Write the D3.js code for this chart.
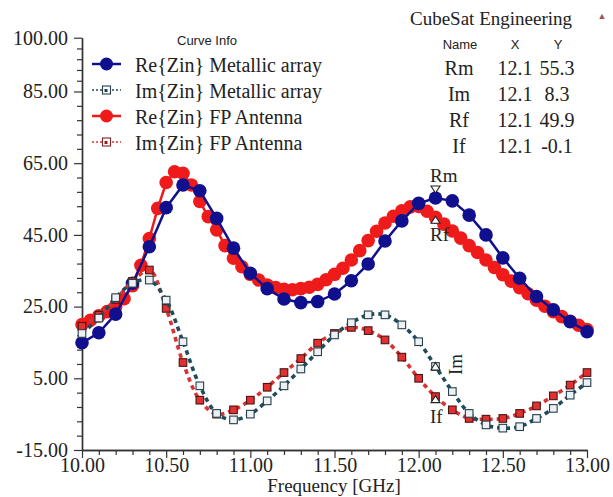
<!DOCTYPE html>
<html><head><meta charset="utf-8">
<script src="https://cdn.jsdelivr.net/npm/d3@7"></script>
<style>
html,body{margin:0;padding:0;background:#fff;}
svg{display:block;}
</style></head>
<body>
<svg id="chart" width="613" height="497"></svg>
<script>
// ---- data ----
const freqCoarse = [10.0,10.1,10.2,10.3,10.4,10.5,10.6,10.7,10.8,10.9,11.0,11.1,11.2,11.3,11.4,11.5,11.6,11.7,11.8,11.9,12.0,12.1,12.2,12.3,12.4,12.5,12.6,12.7,12.8,12.9,13.0];
const reMetallic = [14.9,17.7,22.9,31.5,41.7,52.6,58.9,57.3,49.6,41.3,34.3,30.0,27.1,26.1,26.4,28.5,32.2,36.9,43.3,48.9,53.8,55.3,54.5,50.5,45.0,38.6,32.9,27.8,24.1,20.8,18.0];
const imMetallic = [17.5,21.8,27.5,31.5,32.4,26.8,15.2,2.9,-4.8,-6.6,-5.0,-1.3,2.9,7.6,12.4,17.1,20.5,22.7,22.7,19.9,15.2,8.3,1.3,-4.8,-8.0,-8.9,-8.5,-6.2,-3.4,0.3,3.8];
const imFP = [19.5,22.6,27.0,32.0,35.2,24.5,9.4,-1.1,-5.0,-3.8,-1.1,2.5,6.6,10.5,14.8,17.5,19.2,18.3,15.7,10.9,5.0,-0.1,-3.8,-6.2,-6.4,-6.2,-4.8,-2.7,0.1,3.1,6.6];
const freqFine = [10.00,10.05,10.10,10.15,10.20,10.25,10.30,10.35,10.40,10.45,10.50,10.55,10.60,10.65,10.70,10.75,10.80,10.85,10.90,10.95,11.00,11.05,11.10,11.15,11.20,11.25,11.30,11.35,11.40,11.45,11.50,11.55,11.60,11.65,11.70,11.75,11.80,11.85,11.90,11.95,12.00,12.05,12.10,12.15,12.20,12.25,12.30,12.35,12.40,12.45,12.50,12.55,12.60,12.65,12.70,12.75,12.80,12.85,12.90,12.95,13.00];
const reFP = [20.0,21.2,22.4,23.6,25.0,27.2,30.8,36.5,44.0,52.4,59.6,62.6,62.2,58.9,54.3,50.1,46.4,42.0,38.5,36.1,34.0,32.4,31.0,30.3,29.8,29.7,30.0,30.4,31.2,32.5,34.0,35.7,38.0,40.6,43.4,46.0,48.3,50.2,51.7,52.8,52.9,51.6,49.9,48.0,46.1,44.1,42.0,40.1,38.0,35.9,33.9,32.1,30.3,28.6,26.8,25.1,23.6,22.2,20.9,19.8,18.6];

const seriesNames = ["Re{Zin} Metallic array","Im{Zin} Metallic array","Re{Zin} FP Antenna","Im{Zin} FP Antenna"];
const yMajorTicks = [100,85,65,45,25,5,-15];
const yMinorTicks = [97,94,91,88,81,77,73,69,61,57,53,49,41,37,33,29,21,17,13,9,1,-3,-7,-11];
const xMajorTicks = [10.0,10.5,11.0,11.5,12.0,12.5,13.0];
const xMinorTicks = [10.1,10.2,10.3,10.4,10.6,10.7,10.8,10.9,11.1,11.2,11.3,11.4,11.6,11.7,11.8,11.9,12.1,12.2,12.3,12.4,12.6,12.7,12.8,12.9];
const markerNames = ["Rm","Im","Rf","If"];
const markerX = [12.1,12.1,12.1,12.1];
const markerY = [55.3,8.3,49.9,-0.1];

// ---- layout ----
const svg = d3.select("#chart");
const serif = "'Liberation Serif','Times New Roman',serif";
const sans = "'Liberation Sans',Arial,sans-serif";
const x = d3.scaleLinear().domain([10,13]).range([82,587]);
const y = d3.scaleLinear().domain([-15,100]).range([450,37.7]);
const fmt2 = v => v.toFixed(2);
const fmt1 = v => v.toFixed(1);

const colBlue = "#10108e", colRed = "#ef1b1b", colImM = "#1f4c5c", colImF = "#d83232";

// axes
const axisColor = "#333";
function styleAxis(g){
  g.select(".domain").attr("stroke",axisColor).attr("stroke-width",1.4);
  g.selectAll(".tick line").attr("stroke",axisColor).attr("stroke-width",1.2);
  g.selectAll("text").attr("fill","#222").attr("font-family",serif).attr("font-size",20);
}
svg.append("g").attr("transform","translate(82,0)")
  .call(d3.axisLeft(y).tickValues(yMinorTicks).tickSize(5).tickSizeOuter(0).tickFormat(""))
  .call(styleAxis);
svg.append("g").attr("transform","translate(82,0)")
  .call(d3.axisLeft(y).tickValues(yMajorTicks).tickSize(8).tickSizeOuter(0).tickPadding(6).tickFormat(fmt2))
  .call(styleAxis);
svg.append("g").attr("transform","translate(0,450)")
  .call(d3.axisBottom(x).tickValues(xMinorTicks).tickSize(5).tickSizeOuter(0).tickFormat(""))
  .call(styleAxis);
svg.append("g").attr("transform","translate(0,450)")
  .call(d3.axisBottom(x).tickValues(xMajorTicks).tickSize(8).tickSizeOuter(0).tickPadding(0).tickFormat(fmt2))
  .call(styleAxis);

svg.append("text").attr("x",334).attr("y",492).attr("text-anchor","middle")
  .attr("font-family",serif).attr("font-size",19).attr("fill","#222").text("Frequency [GHz]");

// ---- series ----
const plot = svg.append("g");
const lineLin = d3.line().x(d=>x(d[0])).y(d=>y(d[1]));
const lineSmooth = d3.line().x(d=>x(d[0])).y(d=>y(d[1])).curve(d3.curveCatmullRom);

const dReF = freqFine.map((f,i)=>[f,reFP[i]]);
const dReM = freqCoarse.map((f,i)=>[f,reMetallic[i]]);
const dImM = freqCoarse.map((f,i)=>[f,imMetallic[i]]);
const dImF = freqCoarse.map((f,i)=>[f,imFP[i]]);

function drawRe(data,col){
  plot.append("path").datum(data).attr("d",lineLin).attr("fill","none").attr("stroke",col).attr("stroke-width",2.5);
  plot.append("g").selectAll("circle").data(data).join("circle")
    .attr("cx",d=>x(d[0])).attr("cy",d=>y(d[1])).attr("r",6.8).attr("fill",col);
}
function drawIm(data,col,sqFill,sqStroke){
  plot.append("path").datum(data).attr("d",lineSmooth).attr("fill","none").attr("stroke",col)
    .attr("stroke-width",3.6).attr("stroke-dasharray","4.5,4");
  plot.append("g").selectAll("rect").data(data).join("rect")
    .attr("x",d=>x(d[0])-3.8).attr("y",d=>y(d[1])-3.8).attr("width",7.6).attr("height",7.6)
    .attr("fill",sqFill).attr("stroke",sqStroke).attr("stroke-width",1.1);
}
drawRe(dReF,colRed);
drawRe(dReM,colBlue);
drawIm(dImF,colImF,"#e03030","#4a1414");
drawIm(dImM,colImM,"#eef1f3","#24404e");

// ---- markers ----
const mk = svg.append("g");
markerNames.forEach((n,i)=>{
  const px = x(markerX[i]), py = y(markerY[i]);
  let pts, tx, ty, rot = false;
  if(n==="Rm"){ pts=[[px-4.5,py-12],[px+4.5,py-12],[px,py-5]]; tx=430; ty=py-16; }
  else if(n==="Rf"){ pts=[[px,py-1],[px-4.5,py+6],[px+4.5,py+6]]; tx=430; ty=py+24; }
  else if(n==="If"){ pts=[[px,py-1],[px-4.5,py+6],[px+4.5,py+6]]; tx=430; ty=py+26; }
  else { pts=[[px,py-4],[px-4.5,py+3.5],[px+4.5,py+3.5]]; rot=true; tx=px+20; ty=py-2; }
  mk.append("path").attr("d","M"+pts.map(p=>p.join(",")).join("L")+"Z")
    .attr("fill","#fff").attr("stroke","#222").attr("stroke-width",1.1);
  const t = mk.append("text").attr("font-family",serif).attr("font-size",19).attr("fill","#222").text(n);
  if(rot){ t.attr("text-anchor","middle").attr("transform",`translate(${tx},${ty}) rotate(-90)`).attr("dy","0.35em"); }
  else { t.attr("x",tx).attr("y",ty); }
});

// ---- legend ----
const lg = svg.append("g");
lg.append("text").attr("x",207).attr("y",45).attr("text-anchor","middle")
  .attr("font-family",sans).attr("font-size",13).attr("fill","#222").text("Curve Info");
const legCols = [colBlue,colImM,colRed,colImF];
const legSq = ["#24404e","#24404e","","#8a2020"];
seriesNames.forEach((n,i)=>{
  const cy = 64 + i*26;
  if(i%2===0){
    lg.append("line").attr("x1",92).attr("x2",121).attr("y1",cy).attr("y2",cy).attr("stroke",legCols[i]).attr("stroke-width",2.5);
    lg.append("circle").attr("cx",106.5).attr("cy",cy).attr("r",6.5).attr("fill",legCols[i]);
  } else {
    lg.append("line").attr("x1",92).attr("x2",121).attr("y1",cy).attr("y2",cy).attr("stroke",legCols[i]).attr("stroke-width",1.6).attr("stroke-dasharray","2,2");
    lg.append("rect").attr("x",102.5).attr("y",cy-4).attr("width",8).attr("height",8).attr("fill","#fff").attr("stroke",legSq[i]).attr("stroke-width",1.1);
    lg.append("rect").attr("x",104.5).attr("y",cy-1).attr("width",3).attr("height",3).attr("fill",legSq[i]);
  }
  lg.append("text").attr("x",135).attr("y",cy+8).attr("font-family",serif).attr("font-size",20).attr("fill","#222").text(n);
});

// ---- table ----
const tb = svg.append("g");
tb.append("text").attr("x",410).attr("y",25).attr("font-family",serif).attr("font-size",19).attr("fill","#222").text("CubeSat Engineering");
tb.append("text").attr("x",602).attr("y",19).attr("text-anchor","middle").attr("font-family",sans).attr("font-size",9).attr("fill","#a0505a").text("▲");
[["Name",460],["X",515],["Y",558]].forEach(h=>{
  tb.append("text").attr("x",h[1]).attr("y",49).attr("text-anchor","middle").attr("font-family",sans).attr("font-size",13).attr("fill","#222").text(h[0]);
});
markerNames.forEach((n,i)=>{
  const by = 75 + i*26;
  tb.append("text").attr("x",459).attr("y",by).attr("text-anchor","middle").attr("font-family",serif).attr("font-size",20).attr("fill","#222").text(n);
  tb.append("text").attr("x",515).attr("y",by).attr("text-anchor","middle").attr("font-family",serif).attr("font-size",20).attr("fill","#222").text(fmt1(markerX[i]));
  tb.append("text").attr("x",557).attr("y",by).attr("text-anchor","middle").attr("font-family",serif).attr("font-size",20).attr("fill","#222").text(fmt1(markerY[i]));
});
</script>
</body></html>
